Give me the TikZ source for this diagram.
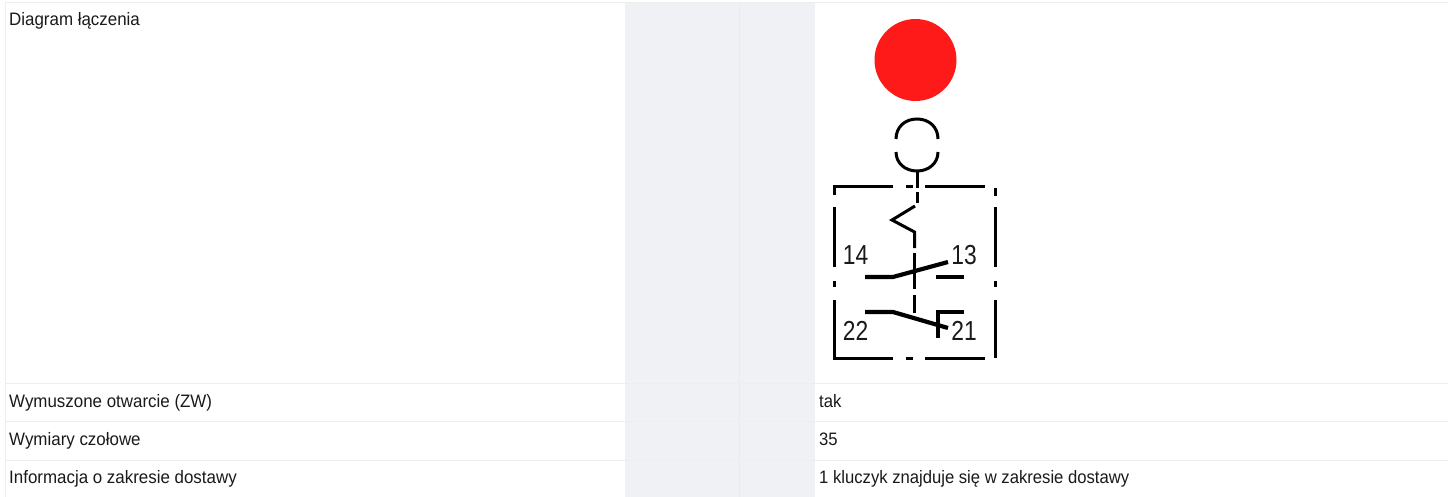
\documentclass[tikz,border=0pt]{standalone}
\usepackage{fontspec}
\setmainfont[FakeStretch=0.88]{Liberation Sans}
\newfontfamily\leftcol[FakeStretch=0.94]{Liberation Sans}
\newfontfamily\rightcol[FakeStretch=0.925]{Liberation Sans}
\newfontfamily\pincol[FakeStretch=0.83]{Liberation Sans}
\definecolor{rowline}{HTML}{EEEEEE}
\definecolor{band}{HTML}{EFF1F5}
\definecolor{bandline}{HTML}{E9EBEF}
\definecolor{lamp}{HTML}{FF1A1A}
\definecolor{ink}{HTML}{1A1A1A}
\tikzset{
  cell/.style={anchor=base west,inner sep=0pt,text=ink},
  lcell/.style={cell,font=\leftcol\fontsize{18}{20}\selectfont},
  rcell/.style={cell,font=\rightcol\fontsize{18}{20}\selectfont},
  pin/.style={anchor=center,inner sep=0pt,text=ink,font=\pincol\fontsize{27.5}{29}\selectfont},
  rule/.style={draw=rowline,line width=1pt},
  sym/.style={draw=black,line width=3pt},
  contact/.style={draw=black,line width=4.2pt},
}
\begin{document}
\begin{tikzpicture}[x=1pt,y=-1pt]
\useasboundingbox (0,0) rectangle (1448,497);
\fill[white] (0,0) rectangle (1448,497);
\fill[band] (625,3) rectangle (815,497);
\draw[bandline,line width=0.8pt] (739,3) -- (739,497);
\draw[rule] (5,2.5) -- (1448,2.5);
\draw[rule] (5,2.5) -- (5,497);
\draw[rule] (5,383.5) -- (1448,383.5);
\draw[rule] (5,421.5) -- (1448,421.5);
\draw[rule] (5,460.5) -- (1448,460.5);
\node[lcell] (l1) at (9,26) {Diagram łączenia};
\node[lcell] (l2) at (9,407) {Wymuszone otwarcie (ZW)};
\node[lcell] (l3) at (9,445.5) {Wymiary czołowe};
\node[lcell] (l4) at (9,483.5) {Informacja o zakresie dostawy};
\node[rcell] (v2) at (819,407) {tak};
\node[rcell] (v3) at (819,445.5) {35};
\node[rcell] (v4) at (819,483.5) {1 kluczyk znajduje się w zakresie dostawy};
% lamp
\fill[lamp] (915.5,60) circle[radius=41];
% head
\draw[sym] (896,139) .. controls (896,127) and (905,119) .. (917,119) .. controls (929,119) and (938,127) .. (938,139);
\draw[sym] (896,152) .. controls (896,163) and (905,171) .. (917,171) .. controls (929,171) and (938,163) .. (938,152);
% stem
\draw[sym] (917,171) -- (917,188);
\draw[sym] (917,192) -- (917,203);
\draw[sym,line join=miter] (915,206) -- (892,220) -- (914.5,232) -- (914.5,248);
\draw[sym] (914.5,253) -- (914.5,289);
\draw[sym] (914.5,295) -- (914.5,313);
% housing
\draw[sym] (834,195) -- (834,187) -- (893,187);
\draw[sym] (906,187) -- (913,187);
\draw[sym] (925,187) -- (985,187);
\draw[sym] (995,188) -- (995,196);
\draw[sym] (995,207) -- (995,267);
\draw[sym] (995,281) -- (995,287);
\draw[sym] (995,300) -- (995,358);
\draw[sym] (834,207) -- (834,267);
\draw[sym] (834,281) -- (834,287);
\draw[sym] (834,300) -- (834,358) -- (893,358);
\draw[sym] (906,358) -- (913,358);
\draw[sym] (925,358) -- (985,358);
% contacts
\draw[contact] (865,277) -- (893,277) -- (948,262);
\draw[contact] (936,277) -- (964,277);
\draw[contact] (865,312) -- (893,312) -- (948,328);
\draw[contact] (964,312) -- (938,312) -- (938,338);
% terminals
\node[pin] (t14) at (855.5,255) {14};
\node[pin] (t13) at (964,255) {13};
\node[pin] (t22) at (855.5,331) {22};
\node[pin] (t21) at (964,331) {21};
\end{tikzpicture}
\end{document}
